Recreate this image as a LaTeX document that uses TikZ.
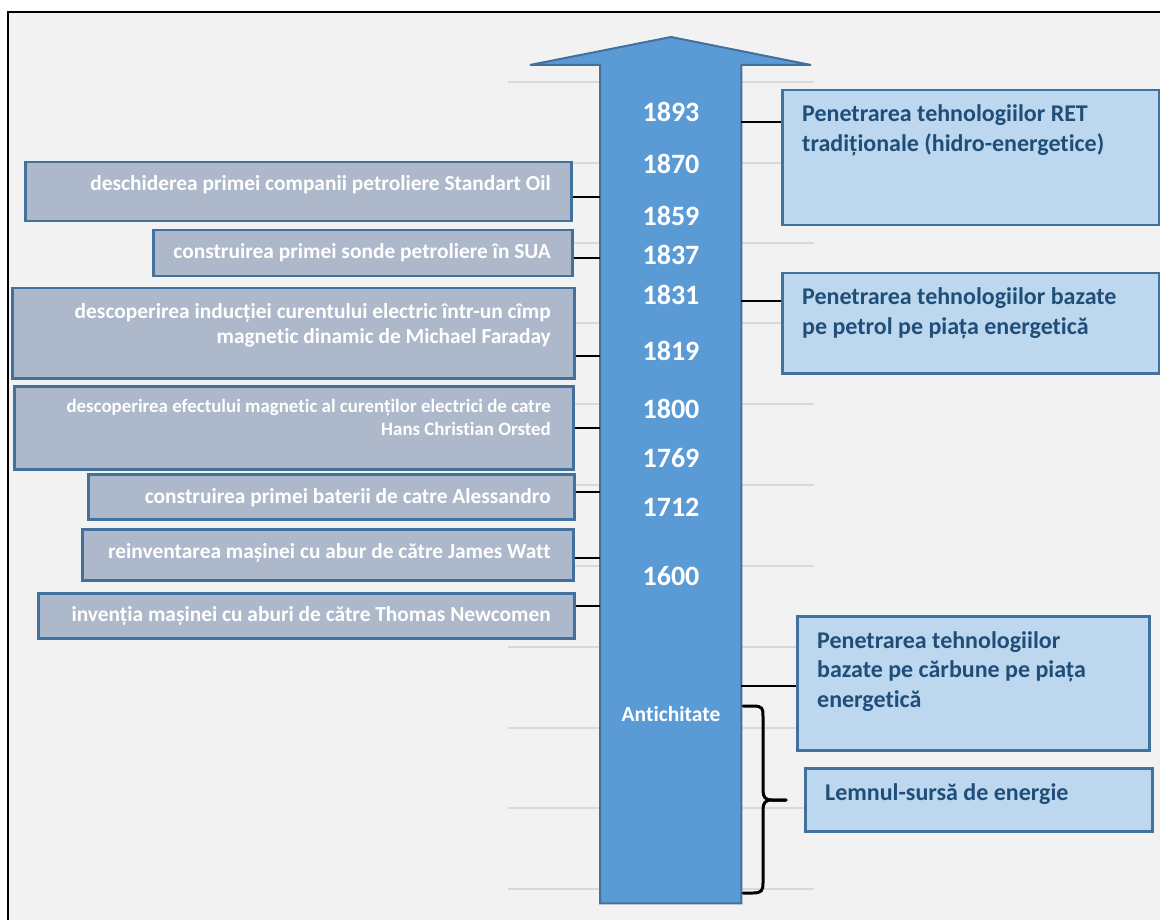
\documentclass[tikz,border=0pt]{standalone}
\usepackage{fontspec}
\setmainfont{Carlito}[Ligatures=NoCommon]
\definecolor{bg}{HTML}{F2F2F2}
\definecolor{shaftfill}{HTML}{5B9BD5}
\definecolor{shaftdraw}{HTML}{41719C}
\definecolor{leftfill}{HTML}{ADB9CA}
\definecolor{boxdraw}{HTML}{41719C}
\definecolor{rightfill}{HTML}{BDD7EE}
\definecolor{righttext}{HTML}{1F4E79}
\definecolor{gridc}{HTML}{D9D9D9}
\begin{document}
\begin{tikzpicture}[x=1pt,y=-1pt,
  lbox/.style={draw=boxdraw, fill=leftfill, line width=2.5pt, inner sep=0pt, anchor=north west},
  rbox/.style={draw=boxdraw, fill=rightfill, line width=2.5pt, inner sep=0pt, anchor=north west},
  ltext/.style={inner sep=0pt, anchor=base east, text=white, font=\fontsize{21.4}{25.8}\selectfont\bfseries},
  lsmall/.style={ltext, font=\fontsize{18.9}{23}\selectfont\bfseries},
  rtext/.style={inner sep=0pt, anchor=base west, text=righttext, font=\fontsize{24}{29.5}\selectfont\bfseries},
  year/.style={inner sep=0pt, anchor=base, text=white, font=\fontsize{28}{32}\selectfont\bfseries},
  conn/.style={draw=black, line width=2.5pt},
  gridline/.style={draw=gridc, line width=2pt},
  bracest/.style={draw=black, line width=3pt, line cap=round, line join=round}]
\useasboundingbox (0,0) rectangle (1160,920);
\clip (0,0) rectangle (1160,920);
% frame and background
\draw[fill=bg, line width=2pt] (8,12) rectangle (1185,945);
% grid lines
\foreach \yy in {82,163,243,323,404,485,566,647,728,808,889}
  \draw[gridline] (508,\yy) -- (814,\yy);
% arrow
\node[inner sep=0pt, minimum width=141pt, minimum height=838pt, anchor=north west] (shaft) at (600,65) {};
\draw[fill=shaftfill, draw=shaftdraw, line width=2pt, line join=miter]
  (shaft.south west) -- (shaft.north west) -- ++(-70,0) -- (671,37) -- (811,65)
  -- (shaft.north east) -- (shaft.south east) -- cycle;
% left boxes
\node[lbox, minimum width=546pt, minimum height=59pt] (L1) at (24,161) {};
\node[lbox, minimum width=419pt, minimum height=46pt] (L2) at (152,229) {};
\node[lbox, minimum width=562pt, minimum height=90pt] (L3) at (11,287) {};
\node[lbox, minimum width=559pt, minimum height=83pt] (L4) at (13,385) {};
\node[lbox, minimum width=486pt, minimum height=45pt] (L5) at (87,473) {};
\node[lbox, minimum width=491pt, minimum height=51pt] (L6) at (81,528) {};
\node[lbox, minimum width=536pt, minimum height=45pt] (L7) at (37,592) {};
% right boxes
\node[rbox, minimum width=377pt, minimum height=135pt] (R1) at (781,89) {};
\node[rbox, minimum width=377pt, minimum height=100pt] (R2) at (781,272) {};
\node[rbox, minimum width=352pt, minimum height=134pt] (R3) at (796,615) {};
\node[rbox, minimum width=347pt, minimum height=63pt] (R4) at (804,767) {};
% connectors
\coordinate (c1) at (0,197);
\coordinate (c2) at (0,258);
\coordinate (c3) at (0,356);
\coordinate (c4) at (0,428);
\coordinate (c5) at (0,492);
\coordinate (c6) at (0,558);
\coordinate (c7) at (0,606);
\coordinate (d1) at (0,122);
\coordinate (d2) at (0,301);
\coordinate (d3) at (0,686);
\draw[conn] (c1 -| L1.east) -- (c1 -| shaft.west);
\draw[conn] (c2 -| L2.east) -- (c2 -| shaft.west);
\draw[conn] (c3 -| L3.east) -- (c3 -| shaft.west);
\draw[conn] (c4 -| L4.east) -- (c4 -| shaft.west);
\draw[conn] (c5 -| L5.east) -- (c5 -| shaft.west);
\draw[conn] (c6 -| L6.east) -- (c6 -| shaft.west);
\draw[conn] (c7 -| L7.east) -- (c7 -| shaft.west);
\draw[conn] (d1 -| shaft.east) -- (d1 -| R1.west);
\draw[conn] (d2 -| shaft.east) -- (d2 -| R2.west);
\draw[conn] (d3 -| shaft.east) -- (d3 -| R3.west);
% brace
\coordinate (bt) at (743,706);
\coordinate (bm) at (786,800);
\coordinate (bb) at (743,893);
\draw[bracest] (bt) -- (753,706) .. controls (763,706) and (763,709) .. (763,716)
  -- (763,790) .. controls (763,797) and (765,800) .. (772,800) -- (bm);
\draw[bracest] (bm) -- (772,800) .. controls (765,800) and (763,803) .. (763,810)
  -- (763,883) .. controls (763,890) and (762,893) .. (753,893) -- (bb);
% left texts
\node[ltext] (t1) at (551,191) {\parbox[t]{530pt}{\raggedleft deschiderea primei companii petroliere Standart Oil}};
\node[ltext] (t2) at (551,259) {\parbox[t]{400pt}{\raggedleft construirea primei sonde petroliere în SUA}};
\node[ltext] (t3) at (551,318) {\parbox[t]{540pt}{\raggedleft descoperirea inducției curentului electric într-un cîmp\\ magnetic dinamic de Michael Faraday}};
\node[lsmall] (t4) at (551,412) {\parbox[t]{540pt}{\raggedleft descoperirea efectului magnetic al curenților electrici de catre\\ Hans Christian Orsted}};
\node[ltext] (t5) at (551,503) {\parbox[t]{470pt}{\raggedleft construirea primei baterii de catre Alessandro}};
\node[ltext] (t6) at (551,558) {\parbox[t]{470pt}{\raggedleft reinventarea mașinei cu abur de către James Watt}};
\node[ltext] (t7) at (551,621) {\parbox[t]{520pt}{\raggedleft invenția mașinei cu aburi de către Thomas Newcomen}};
% right texts
\node[rtext] (u1) at (802,122) {\parbox[t]{350pt}{\raggedright Penetrarea tehnologiilor RET\\ tradiționale (hidro-energetice)}};
\node[rtext] (u2) at (802,305) {\parbox[t]{350pt}{\raggedright Penetrarea tehnologiilor bazate\\ pe petrol pe piața energetică}};
\node[rtext] (u3) at (817,648) {\parbox[t]{320pt}{\raggedright Penetrarea tehnologiilor\\ bazate pe cărbune pe piața\\ energetică}};
\node[rtext] (u4) at (825,800) {\parbox[t]{310pt}{\raggedright Lemnul-sursă de energie}};
% years
\node[year] (y1) at (671,122) {1893};
\node[year] (y2) at (671,174) {1870};
\node[year] (y3) at (671,226) {1859};
\node[year] (y4) at (671,265) {1837};
\node[year] (y5) at (671,305) {1831};
\node[year] (y6) at (671,360) {1819};
\node[year] (y7) at (671,418) {1800};
\node[year] (y8) at (671,467) {1769};
\node[year] (y9) at (671,516) {1712};
\node[year] (y10) at (671,585) {1600};
\node[year, font=\fontsize{21.5}{25}\selectfont\bfseries] (ya) at (671,721) {Antichitate};
\end{tikzpicture}
\end{document}
